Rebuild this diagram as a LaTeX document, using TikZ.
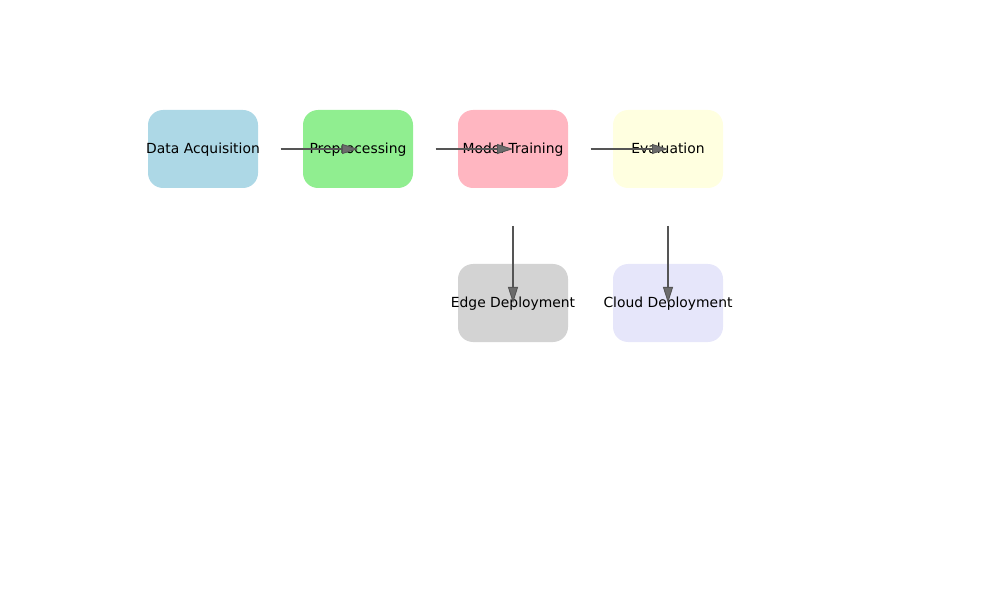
\documentclass[tikz,border=0pt]{standalone}
\usepackage{fontspec}
\setmainfont{DejaVu Sans}
\usetikzlibrary{arrows.meta,calc}
\definecolor{lblue}{HTML}{ADD8E6}
\definecolor{lgreen}{HTML}{90EE90}
\definecolor{lpink}{HTML}{FFB6C1}
\definecolor{lyellow}{HTML}{FFFFE0}
\definecolor{lgray}{HTML}{D3D3D3}
\definecolor{lav}{HTML}{E6E6FA}
\definecolor{arrgray}{HTML}{555555}
\newcommand{\stagetext}[1]{\makebox[2.2cm][c]{\hss#1\hss}}
\tikzset{stage/.style={rounded corners=0.3cm,minimum width=2.2cm,minimum height=1.56cm,
  inner sep=0pt,text height=0.75em,text depth=0.2em,font=\fontsize{7.9}{9.5}\selectfont},
  flow/.style={draw=arrgray,line width=0.8pt,
  -{Triangle[length=0.32cm,width=0.2cm,fill=gray!85!black,line width=0.5pt]}}}

\begin{document}
\begin{tikzpicture}
\useasboundingbox (0,0) rectangle (20,12);
\node[stage,fill=lblue](acq) at (4.06,9.02){\stagetext{Data Acquisition}};
\node[stage,fill=lgreen](pre) at (7.16,9.02){\stagetext{Preprocessing}};
\node[stage,fill=lpink](train) at (10.26,9.02){\stagetext{Model Training}};
\node[stage,fill=lyellow](eval) at (13.36,9.02){\stagetext{Evaluation}};
\node[stage,fill=lgray](edge) at (10.26,5.94){\stagetext{Edge Deployment}};
\node[stage,fill=lav](cloud) at (13.36,5.94){\stagetext{Cloud Deployment}};
\draw[flow]($(acq)!0.5!(pre)$)--(pre.center);
\draw[flow]($(pre)!0.5!(train)$)--(train.center);
\draw[flow]($(train)!0.5!(eval)$)--(eval.center);
\draw[flow]($(train)!0.5!(edge)$)--(edge.center);
\draw[flow]($(eval)!0.5!(cloud)$)--(cloud.center);
\end{tikzpicture}
\end{document}
